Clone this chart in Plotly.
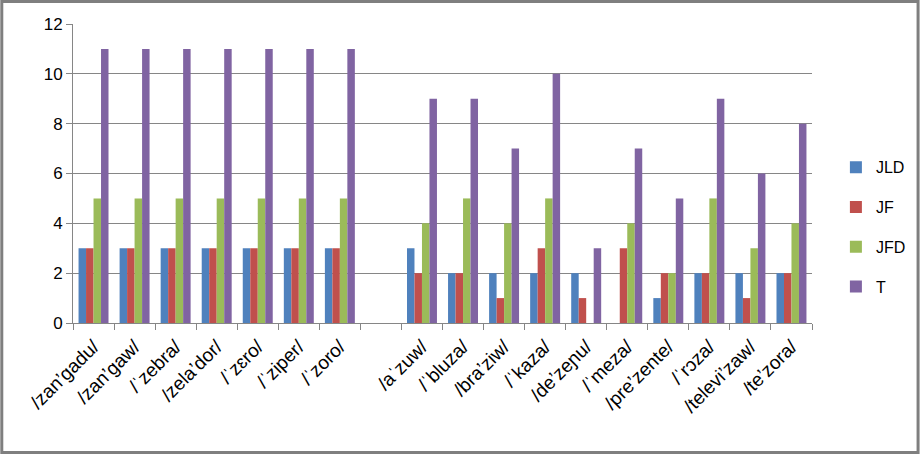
import plotly.graph_objects as go

categories = ["/zan’gadu/", "/zan’gaw/", "/ˈzebra/", "/zela’dor/", "/ˈzɛro/", "/ˈziper/", "/ˈzoro/",
              " ",
              "/aˈzuw/", "/ˈbluza/", "/bra’ziw/", "/ˈkaza/", "/de’zeɲu/", "/ˈmeza/", "/pre’zente/",
              "/ˈrɔza/", "/televi’zaw/", "/te’zora/"]
JLD = [3, 3, 3, 3, 3, 3, 3, None, 3, 2, 2, 2, 2, 0, 1, 2, 2, 2]
JF  = [3, 3, 3, 3, 3, 3, 3, None, 2, 2, 1, 3, 1, 3, 2, 2, 1, 2]
JFD = [5, 5, 5, 5, 5, 5, 5, None, 4, 5, 4, 5, 0, 4, 2, 5, 3, 4]
T   = [11, 11, 11, 11, 11, 11, 11, None, 9, 9, 7, 10, 3, 7, 5, 9, 6, 8]

series = [("JLD", JLD, "#4F81BD"), ("JF", JF, "#C0504D"),
          ("JFD", JFD, "#9BBB59"), ("T", T, "#8064A2")]

fig = go.Figure()
for name, vals, col in series:
    fig.add_trace(go.Bar(x=categories, y=vals, name=name, marker_color=col,
                         marker_line_width=0, legendgroup=name))

W, H = 923, 454
ml, mr, mt, mb = 73, 108, 24, 131
pw, ph = W - ml - mr, H - mt - mb

fig.update_layout(
    width=W, height=H,
    margin=dict(l=ml, r=mr, t=mt, b=mb),
    paper_bgcolor="white", plot_bgcolor="white",
    barmode="group", bargap=0.27, bargroupgap=0,
    font=dict(family="Liberation Sans, Arial, sans-serif", color="#000000"),
    legend=dict(x=1.0 + 24/pw, y=0.32, xanchor="left", yanchor="middle",
                font=dict(size=16), tracegroupgap=16, itemwidth=30,
                bgcolor="rgba(0,0,0,0)"),
    xaxis=dict(type="category", categoryorder="array", categoryarray=categories,
               tickangle=-45, tickfont=dict(size=19), showline=True,
               linecolor="#868686", linewidth=1, ticks="outside", tickson="boundaries",
               ticklen=6, tickcolor="#868686", showgrid=False, ticklabelstandoff=4),
    yaxis=dict(range=[0, 12], dtick=2, tickfont=dict(size=17), showline=True,
               linecolor="#868686", linewidth=1, ticks="outside", ticklen=6,
               tickcolor="#868686", showgrid=True, gridcolor="#868686", gridwidth=1,
               zeroline=False),
    shapes=[dict(type="rect", xref="paper", yref="paper",
                 x0=-(ml - 1.5) / pw, x1=1 + (mr - 1.5) / pw,
                 y0=-(mb - 1.5) / ph, y1=1 + (mt - 1.5) / ph,
                 line=dict(color="#7f7f7f", width=3))],
)

fig.write_html("out.html")
